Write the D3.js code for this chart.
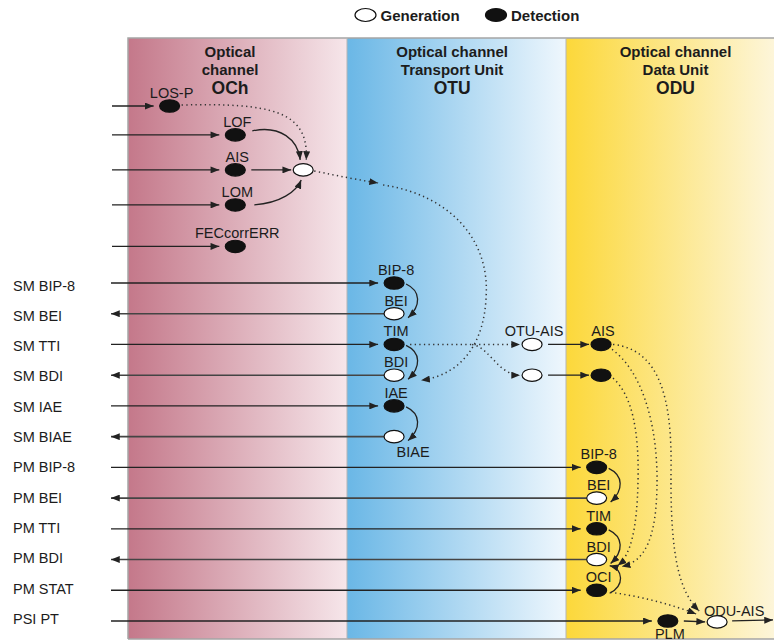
<!DOCTYPE html>
<html>
<head>
<meta charset="utf-8">
<script src="https://cdn.jsdelivr.net/npm/d3@7"></script>
<style>
  body { margin: 0; background: #fff; }
  text { font-family: "Liberation Sans", Arial, sans-serif; fill: #1c1c1c; }
</style>
</head>
<body>
<div id="chart"></div>
<script>
const width = 774, height = 641;

// Panels, left to right
const layers = ["OCh", "OTU", "ODU"];
const layerTitles = [
  ["Optical", "channel"],
  ["Optical channel", "Transport Unit"],
  ["Optical channel", "Data Unit"]
];
const layerColors = [["#c4788a", "#f6e6ea"], ["#6ab7e6", "#eff7fd"], ["#fcd83a", "#fdf7e2"]];

// Signal rows on the left side
const rows = ["SM BIP-8", "SM BEI", "SM TTI", "SM BDI", "SM IAE", "SM BIAE",
  "PM BIP-8", "PM BEI", "PM TTI", "PM BDI", "PM STAT", "PSI PT"];
const rowDirection = ["in", "out", "in", "out", "in", "out", "in", "out", "in", "out", "in", "in"];
const rowTarget = ["bip8", "bei", "tim", "bdi", "iae", "biae", "pbip8", "pbei", "ptim", "pbdi", "poci", "plm"];

// OCh inputs without a row label
const ochInputs = ["losp", "lof", "ais0", "lom", "fec"];

// Nodes: layer, column (share of the panel), row (row units), kind
const nodes = [
  { id: "losp", label: "LOS-P", layer: "OCh", col: 0.19, row: -5.76, kind: "det" },
  { id: "lof", label: "LOF", layer: "OCh", col: 0.49, row: -4.82, kind: "det" },
  { id: "ais0", label: "AIS", layer: "OCh", col: 0.49, row: -3.68, kind: "det" },
  { id: "lom", label: "LOM", layer: "OCh", col: 0.49, row: -2.54, kind: "det" },
  { id: "fec", label: "FECcorrERR", layer: "OCh", col: 0.49, row: -1.19, kind: "det" },
  { id: "ochgen", label: "", layer: "OCh", col: 0.80, row: -3.68, kind: "gen" },
  { id: "bip8", label: "BIP-8", layer: "OTU", col: 0.215, row: 0, kind: "det" },
  { id: "bei", label: "BEI", layer: "OTU", col: 0.215, row: 1, kind: "gen" },
  { id: "tim", label: "TIM", layer: "OTU", col: 0.215, row: 2, kind: "det" },
  { id: "bdi", label: "BDI", layer: "OTU", col: 0.215, row: 3, kind: "gen" },
  { id: "iae", label: "IAE", layer: "OTU", col: 0.215, row: 4, kind: "det" },
  { id: "biae", label: "BIAE", layer: "OTU", col: 0.215, row: 5, kind: "gen", at: "belowRight" },
  { id: "otuais", label: "OTU-AIS", layer: "OTU", col: 0.845, row: 2, kind: "gen" },
  { id: "otugen2", label: "", layer: "OTU", col: 0.845, row: 3, kind: "gen" },
  { id: "oduais", label: "AIS", layer: "ODU", col: 0.16, row: 2, kind: "det" },
  { id: "odudet2", label: "", layer: "ODU", col: 0.16, row: 3, kind: "det" },
  { id: "pbip8", label: "BIP-8", layer: "ODU", col: 0.14, row: 6, kind: "det" },
  { id: "pbei", label: "BEI", layer: "ODU", col: 0.14, row: 7, kind: "gen" },
  { id: "ptim", label: "TIM", layer: "ODU", col: 0.14, row: 8, kind: "det" },
  { id: "pbdi", label: "BDI", layer: "ODU", col: 0.14, row: 9, kind: "gen" },
  { id: "poci", label: "OCI", layer: "ODU", col: 0.14, row: 10, kind: "det" },
  { id: "plm", label: "PLM", layer: "ODU", col: 0.465, row: 11, kind: "det", at: "below" },
  { id: "oduaisgen", label: "ODU-AIS", layer: "ODU", col: 0.69, row: 11.03, kind: "gen", at: "aboveRight" }
];

// Links between nodes
const links = [
  { from: "losp", to: "ochgen", line: "dotted", shape: "hook" },
  { from: "lof", to: "ochgen", line: "solid", shape: "arcDown" },
  { from: "ais0", to: "ochgen", line: "solid", shape: "straight" },
  { from: "lom", to: "ochgen", line: "solid", shape: "arcUp" },
  { from: "ochgen", to: "bdi", line: "dotted", shape: "otuEntry" },
  { from: "ochgen", to: "bdi", line: "dotted", shape: "longDrop" },
  { from: "bip8", to: "bei", line: "solid", shape: "loop" },
  { from: "tim", to: "bdi", line: "solid", shape: "loop" },
  { from: "iae", to: "biae", line: "solid", shape: "loop" },
  { from: "tim", to: "otuais", line: "dotted", shape: "straight" },
  { from: "tim", to: "otugen2", line: "dotted", shape: "branch" },
  { from: "otuais", to: "oduais", line: "solid", shape: "straight" },
  { from: "otugen2", to: "odudet2", line: "solid", shape: "straight" },
  { from: "pbip8", to: "pbei", line: "solid", shape: "loop" },
  { from: "ptim", to: "pbdi", line: "solid", shape: "loop" },
  { from: "poci", to: "pbdi", line: "solid", shape: "loopUp" },
  { from: "oduais", to: "oduaisgen", line: "dotted", shape: "wideDrop" },
  { from: "oduais", to: "pbdi", line: "dotted", shape: "midDrop" },
  { from: "odudet2", to: "pbdi", line: "dotted", shape: "narrowDrop" },
  { from: "poci", to: "oduaisgen", line: "dotted", shape: "slant" },
  { from: "plm", to: "oduaisgen", line: "solid", shape: "straight" },
  { from: "oduaisgen", to: null, line: "solid", shape: "exit" }
];

const legendItems = [{ kind: "gen", label: "Generation" }, { kind: "det", label: "Detection" }];

// Scales
const x = d3.scaleBand().domain(layers).range([128, 128 + 3 * 219]);
const y = d3.scaleLinear().domain([0, 11]).range([283, 621]);
const labelY = d3.scaleLinear().domain([0, 11]).range([285.3, 618.7]);
const panelTop = 38, panelBottom = 639, leftEnd = 111;

const P = {};
nodes.forEach(n => { P[n.id] = [x(n.layer) + n.col * x.bandwidth(), y(n.row)]; });

const svg = d3.select("#chart").append("svg")
  .attr("width", width).attr("height", height);

const defs = svg.append("defs");
layers.forEach((l, i) => {
  const g = defs.append("linearGradient").attr("id", "grad-" + l)
    .attr("x1", "0%").attr("x2", "100%").attr("y1", "0%").attr("y2", "0%");
  g.append("stop").attr("offset", "0%").attr("stop-color", layerColors[i][0]);
  g.append("stop").attr("offset", "100%").attr("stop-color", layerColors[i][1]);
});
defs.append("marker").attr("id", "arrow")
  .attr("viewBox", "0 0 10 8").attr("refX", 10).attr("refY", 4)
  .attr("markerWidth", 9).attr("markerHeight", 7)
  .attr("markerUnits", "userSpaceOnUse").attr("orient", "auto")
  .append("path").attr("d", "M0,0L10,4L0,8Z").attr("fill", "#222");

// Panels
svg.selectAll("rect.panel").data(layers).enter().append("rect")
  .attr("class", "panel")
  .attr("x", d => x(d)).attr("y", panelTop)
  .attr("width", x.bandwidth()).attr("height", panelBottom - panelTop)
  .attr("fill", d => `url(#grad-${d})`);

svg.append("path")
  .attr("d", `M${x(layers[0])},${panelBottom}V${panelTop}H${width}M${x(layers[0])},${panelBottom}H${width}`)
  .attr("fill", "none").attr("stroke", "#a5a5a5").attr("stroke-width", 1.5);
svg.selectAll("line.sep").data(layers.slice(1)).enter().append("line")
  .attr("x1", d => x(d)).attr("x2", d => x(d))
  .attr("y1", panelTop).attr("y2", panelBottom)
  .attr("stroke", "#b5b5b5").attr("stroke-width", 1);

// Panel titles
layers.forEach((l, i) => {
  const cx = x(l) + x.bandwidth() * (i === 0 ? 0.466 : i === 1 ? 0.48 : 0.5);
  const t = svg.append("text").attr("text-anchor", "middle").attr("font-weight", "bold");
  layerTitles[i].forEach((line, j) => {
    t.append("tspan").attr("x", cx).attr("y", 57 + j * 17.5)
      .attr("font-size", 15).text(line);
  });
  t.append("tspan").attr("x", cx).attr("y", 94).attr("font-size", 17.5).text(l);
});

// Legend
const legend = svg.append("g");
legendItems.forEach((d, i) => {
  const lx = 365.5 + i * 130.5;
  legend.append("ellipse").attr("cx", lx).attr("cy", 15).attr("rx", 10.5).attr("ry", 6.5)
    .attr("fill", d.kind === "det" ? "#111" : "#fff").attr("stroke", "#111").attr("stroke-width", 1.2);
  legend.append("text").attr("x", lx + 15).attr("y", 20.5)
    .attr("font-size", 15).attr("font-weight", "bold").text(d.label);
});

// Row labels and wires
rows.forEach((r, i) => {
  const yy = y(i);
  svg.append("text").attr("x", 13).attr("y", labelY(i) + 5.2).attr("font-size", 14.5).text(r);
  const [nx] = P[rowTarget[i]];
  if (rowDirection[i] === "in") {
    svg.append("line").attr("x1", leftEnd).attr("x2", nx - 16).attr("y1", yy).attr("y2", yy)
      .attr("stroke", "#222").attr("stroke-width", 1.3).attr("marker-end", "url(#arrow)");
  } else {
    svg.append("line").attr("x1", nx - 10).attr("x2", leftEnd).attr("y1", yy).attr("y2", yy)
      .attr("stroke", "#444").attr("stroke-width", 1.6).attr("marker-end", "url(#arrow)");
  }
});
ochInputs.forEach(id => {
  const [nx, ny] = P[id];
  svg.append("line").attr("x1", leftEnd + 1).attr("x2", nx - 16).attr("y1", ny).attr("y2", ny)
    .attr("stroke", "#222").attr("stroke-width", 1.3).attr("marker-end", "url(#arrow)");
});

// Link geometry
function linkPath(l) {
  const [ax, ay] = P[l.from];
  const [bx, by] = l.to ? P[l.to] : [width, ay];
  switch (l.shape) {
    case "straight":
      return `M${ax + 16},${ay}L${bx - 12},${by}`;
    case "loop":
      return `M${ax + 12},${ay + 1}C${ax + 27},${ay + 8} ${bx + 27},${by - 8} ${bx + 14},${by + 4}`;
    case "loopUp":
      return `M${ax + 13},${ay + 3}C${ax + 28},${ay - 5} ${bx + 27},${by + 10} ${bx + 13},${by + 6}`;
    case "hook":
      return `M${ax + 12},${ay - 1}C${ax + 100},${ay - 3} ${bx + 6},${ay + 4} ${bx + 3},${by - 10}`;
    case "arcDown":
      return `M${ax + 17},${ay - 4}C${ax + 45},${ay - 10} ${bx - 5},${by - 30} ${bx - 3},${by - 10}`;
    case "arcUp":
      return `M${ax + 19},${ay}C${ax + 45},${ay - 2} ${bx - 7},${by + 22} ${bx - 2},${by + 10}`;
    case "otuEntry": {
      const [gx, gy] = P.ochgen;
      return `M${gx + 11},${gy + 1}C${gx + 35},${gy + 6} ${gx + 55},${gy + 10} ${bx - 16},${gy + 13}`;
    }
    case "longDrop": {
      const gy = P.ochgen[1];
      return `M${bx - 11},${gy + 15}C${bx + 56},${gy + 25} ${bx + 96},${gy + 70} ${bx + 92},${gy + 127}` +
        `C${bx + 90},${by - 30} ${bx + 66},${by} ${bx + 27},${by + 5}`;
    }
    case "branch":
      return `M${ax + 78},${ay}C${ax + 96},${ay + 3} ${ax + 104},${by} ${bx - 12},${by}`;
    case "wideDrop":
      return `M${ax + 12},${ay}C${ax + 59},${ay + 5} ${ax + 71},${ay + 55} ${ax + 70},${ay + 125}` +
        `C${ax + 69},${by - 62} ${bx - 37},${by - 30} ${bx - 18},${by - 11}`;
    case "midDrop":
      return `M${ax + 11},${ay + 5}C${ax + 39},${ay + 25} ${ax + 56},${ay + 75} ${ax + 56},${ay + 135}` +
        `C${ax + 56},${by - 20} ${bx + 48},${by + 2} ${bx + 25},${by + 7}`;
    case "narrowDrop":
      return `M${ax + 12},${ay + 3}C${ax + 31},${ay + 20} ${ax + 38},${ay + 55} ${ax + 37},${ay + 105}` +
        `C${ax + 36},${by - 30} ${bx + 34},${by - 4} ${bx + 21},${by + 6}`;
    case "slant":
      return `M${ax + 14},${ay + 2}C${ax + 43},${ay + 6} ${bx - 47},${by - 18} ${bx - 21},${by - 8}`;
    case "exit":
      return `M${ax + 15},${ay - 1}L${width - 1},${ay - 2}`;
  }
}

svg.selectAll("path.link").data(links).enter().append("path")
  .attr("class", "link")
  .attr("d", linkPath)
  .attr("fill", "none")
  .attr("stroke", d => d.line === "dotted" ? "#333" : "#222")
  .attr("stroke-width", d => d.line === "dotted" ? 1.5 : 1.3)
  .attr("stroke-dasharray", d => d.line === "dotted" ? "1.3,3.3" : null)
  .attr("marker-end", "url(#arrow)");

// Nodes
svg.selectAll("ellipse.node").data(nodes).enter().append("ellipse")
  .attr("class", "node")
  .attr("cx", d => P[d.id][0]).attr("cy", d => P[d.id][1])
  .attr("rx", 10).attr("ry", 6.2)
  .attr("fill", d => d.kind === "det" ? "#111" : "#fff")
  .attr("stroke", "#111").attr("stroke-width", 1.2);

svg.selectAll("text.nlabel").data(nodes.filter(d => d.label)).enter().append("text")
  .attr("class", "nlabel")
  .attr("font-size", 14.5)
  .attr("text-anchor", "middle")
  .attr("x", d => P[d.id][0] + (d.at === "belowRight" ? 19 : d.at === "aboveRight" ? 17 : 2))
  .attr("y", d => P[d.id][1] + (d.at === "belowRight" ? 20 : d.at === "below" ? 18 : d.at === "aboveRight" ? -6 : -8))
  .text(d => d.label);
</script>
</body>
</html>
